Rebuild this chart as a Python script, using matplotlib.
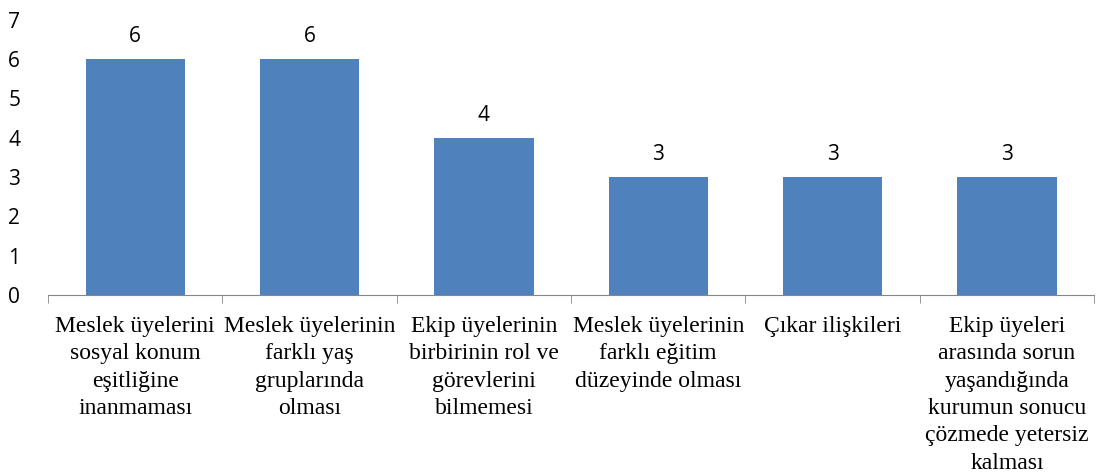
import matplotlib.pyplot as plt

categories = [
    'Meslek üyelerini\nsosyal konum\neşitliğine\ninanmaması',
    'Meslek üyelerinin\nfarklı yaş\ngruplarında\nolması',
    'Ekip üyelerinin\nbirbirinin rol ve\ngörevlerini\nbilmemesi',
    'Meslek üyelerinin\nfarklı eğitim\ndüzeyinde olması',
    'Çıkar ilişkileri',
    'Ekip üyeleri\narasında sorun\nyaşandığında\nkurumun sonucu\nçözmede yetersiz\nkalması',
]
values = [6, 6, 4, 3, 3, 3]

fig = plt.figure(figsize=(10.99, 4.72), dpi=100)
ax = fig.add_axes([0.0437, 0.375, 0.9518, 0.583])

x = range(len(values))
bars = ax.bar(x, values, width=0.57, color='#4F81BD')

for b, v in zip(bars, values):
    ax.text(b.get_x() + b.get_width() / 2, v + 0.3, str(v),
            ha='center', va='bottom', fontsize=15, family='Open Sans')

ax.set_xlim(-0.5, len(values) - 0.5)
ax.set_ylim(0, 7)
ax.set_yticks(range(8))
ax.set_yticklabels([str(i) for i in range(8)], fontsize=15, family='Open Sans')

for s in ['top', 'right', 'left']:
    ax.spines[s].set_visible(False)
ax.spines['bottom'].set_color('#868686')
ax.tick_params(axis='y', length=0, pad=20)

# category boundary ticks
ax.set_xticks([i - 0.5 for i in range(len(values) + 1)], minor=True)
ax.tick_params(axis='x', which='minor', length=6, color='#868686')
ax.set_xticks(list(x))
ax.set_xticklabels(categories, fontsize=17, family='Liberation Serif',
                   linespacing=1.4, va='top')
ax.tick_params(axis='x', which='major', length=0, pad=15)

fig.savefig('out.png')
plt.close(fig)
